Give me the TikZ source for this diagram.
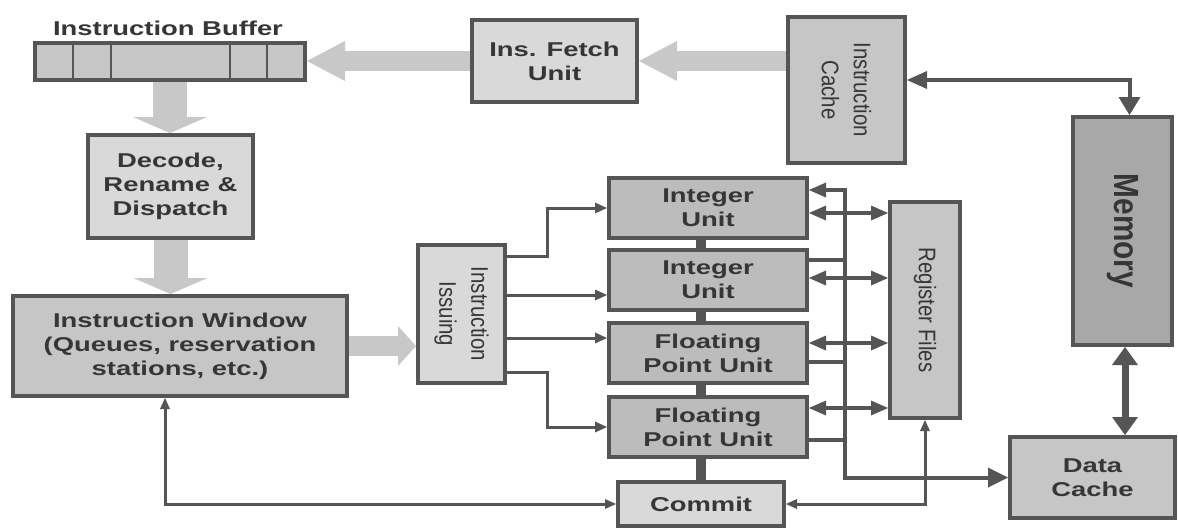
\documentclass[tikz,border=0pt]{standalone}
\usepackage{fontspec}
\usepackage{xcolor}
\usepackage{tikz}
\usetikzlibrary{arrows.meta}
\newfontfamily\widefont{Liberation Sans}[FakeStretch=1.37]
\newfontfamily\tallfont{Liberation Sans}[FakeStretch=0.85]
\definecolor{edgegray}{HTML}{555555}
\definecolor{textgray}{HTML}{363636}
\definecolor{lightfill}{HTML}{D9D9D9}
\definecolor{midfill}{HTML}{C6C6C6}
\definecolor{unitfill}{HTML}{BCBCBC}
\definecolor{memfill}{HTML}{A8A8A8}
\definecolor{shaftgray}{HTML}{C8C8C8}

\begin{document}
\begin{tikzpicture}[
    x=1pt, y=-1pt,
    box/.style={draw=edgegray, line width=4pt, align=center, text=textgray, inner sep=0pt,
      font=\widefont\bfseries\fontsize{20}{24}\selectfont},
    light/.style={box, fill=lightfill},
    mid/.style={box, fill=midfill},
    unit/.style={box, fill=unitfill, minimum width=198pt, minimum height=60pt},
    tall/.style={box, rotate=-90, font=\tallfont\fontsize{24}{32}\selectfont},
    title/.style={text=textgray, font=\widefont\bfseries\fontsize{20}{24}\selectfont},
    cell/.style={draw=edgegray, line width=2.5pt},
    flat/.style={draw=shaftgray, line width=20pt, -{Triangle[length=38pt,width=40pt,line width=0pt]}},
    drop/.style={draw=shaftgray, line width=34pt, -{Triangle[length=16pt,width=74pt,line width=0pt]}},
    feed/.style={draw=shaftgray, line width=20pt, -{Triangle[length=18pt,width=40pt,line width=0pt]}},
    wire/.style={draw=edgegray, line width=3pt, -{Triangle[length=12pt,width=11pt,line width=0pt]}},
    backlink/.style={draw=edgegray, line width=3pt, {Triangle[length=11pt,width=10pt,line width=0pt]}-{Triangle[length=11pt,width=10pt,line width=0pt]}},
    twoway/.style={draw=edgegray, line width=4pt, {Triangle[length=17pt,width=15pt,line width=0pt]}-{Triangle[length=17pt,width=15pt,line width=0pt]}},
    bus/.style={draw=edgegray, line width=4pt, {Triangle[length=17pt,width=15pt,line width=0pt]}-{Triangle[length=20pt,width=20pt,line width=0pt]}},
    memlink/.style={draw=edgegray, line width=4pt, {Triangle[length=20pt,width=18pt,line width=0pt]}-{Triangle[length=18pt,width=22pt,line width=0pt]}},
    fatlink/.style={draw=edgegray, line width=7pt, {Triangle[length=18pt,width=26pt,line width=0pt]}-{Triangle[length=18pt,width=26pt,line width=0pt]}},
    split/.style={draw=edgegray, line width=4pt},
    bar/.style={draw=edgegray, line width=10pt}
]
\path[use as bounding box, fill=white] (0,0) rectangle (1178,528);

\node[mid, minimum width=270pt, minimum height=37pt] (buffer) at (170,61.5) {};
\node[title] (buftitle) at (168,28) {Instruction Buffer};
\node[light, minimum width=165pt, minimum height=82pt] (fetch) at (554.5,61) {Ins. Fetch\\Unit};
\node[tall, fill=midfill, minimum width=146pt, minimum height=117pt] (icache) at (846.5,90) {Instruction\\Cache};
\node[tall, fill=memfill, minimum width=228pt, minimum height=99pt,
  font=\tallfont\bfseries\fontsize{35}{40}\selectfont] (memory) at (1122.5,231) {Memory};
\node[light, minimum width=165pt, minimum height=103pt] (decode) at (170.5,186.5) {Decode,\\Rename \&\\Dispatch};
\node[mid, minimum width=334pt, minimum height=100pt] (window) at (180,346) {Instruction Window\\(Queues, reservation\\stations, etc.)};
\node[tall, fill=lightfill, minimum width=138pt, minimum height=87pt] (issue) at (461.5,314) {Instruction\\Issuing};
\node[unit] (int1) at (708,208) {Integer\\Unit};
\node[unit] (int2) at (708,280) {Integer\\Unit};
\node[unit] (fp1) at (708,353) {Floating\\Point Unit};
\node[unit] (fp2) at (708,427) {Floating\\Point Unit};
\node[light, minimum width=166pt, minimum height=44pt] (commit) at (701,504) {Commit};
\node[tall, fill=midfill, minimum width=216pt, minimum height=70pt] (regs) at (925,310) {Register Files};
\node[mid, minimum width=165pt, minimum height=81pt] (dcache) at (1092.5,477.5) {Data\\Cache};
\coordinate (bus) at (845,0);

\foreach \cx in {73,111,230,267}
  \draw[cell] (buffer.north -| \cx,0) -- (buffer.south -| \cx,0);

\draw[flat] (icache.south |- fetch) -- (fetch);
\draw[flat] (fetch.west) -- (fetch.west -| buffer.east);
\draw[drop] (buffer.south) -- (buffer.south |- decode.north);
\draw[drop] (decode.south) -- (decode.south |- window.north);
\draw[feed] (window.east) -- (window.east -| issue.south);

\draw[wire] ([yshift=58pt]issue.north) -- ++(40,0) |- (int1);
\draw[wire] ([yshift=19pt]issue.north) -- ([yshift=19pt]issue.north -| int2.west);
\draw[wire] ([yshift=-24pt]issue.north) -- ([yshift=-24pt]issue.north -| fp1.west);
\draw[wire] ([yshift=-58pt]issue.north) -- ++(40,0) |- (fp2);

\draw[bar] (int1.south -| commit.north) -- (int2.north -| commit.north);
\draw[bar] (int2.south -| commit.north) -- (fp1.north -| commit.north);
\draw[bar] (fp1.south -| commit.north) -- (fp2.north -| commit.north);
\draw[bar] (fp2.south -| commit.north) -- (commit.north);

\draw[bus] ([yshift=18pt]int1.east) -| (bus |- dcache) -- (dcache);
\draw[split] ([yshift=20pt]int2.east) -- ([yshift=20pt]int2.east -| bus);
\draw[split] ([yshift=-9pt]fp1.east) -- ([yshift=-9pt]fp1.east -| bus);
\draw[split] ([yshift=-13pt]fp2.east) -- ([yshift=-13pt]fp2.east -| bus);

\draw[twoway] ([yshift=-5pt]int1.east) -- ([yshift=-5pt]int1.east -| regs.south);
\draw[twoway] ([yshift=2pt]int2.east) -- ([yshift=2pt]int2.east -| regs.south);
\draw[twoway] ([yshift=10pt]fp1.east) -- ([yshift=10pt]fp1.east -| regs.south);
\draw[twoway] ([yshift=19pt]fp2.east) -- ([yshift=19pt]fp2.east -| regs.south);

\draw[backlink] (regs.east) |- (commit);
\draw[backlink] (commit) -| ([xshift=-15pt]window.south);

\draw[memlink] ([yshift=10pt]icache.north) -| ([xshift=7pt]memory.west);
\draw[fatlink] ([xshift=2.5pt]memory.east) -- ([xshift=2.5pt]memory.east |- dcache.north);
\end{tikzpicture}
\end{document}
